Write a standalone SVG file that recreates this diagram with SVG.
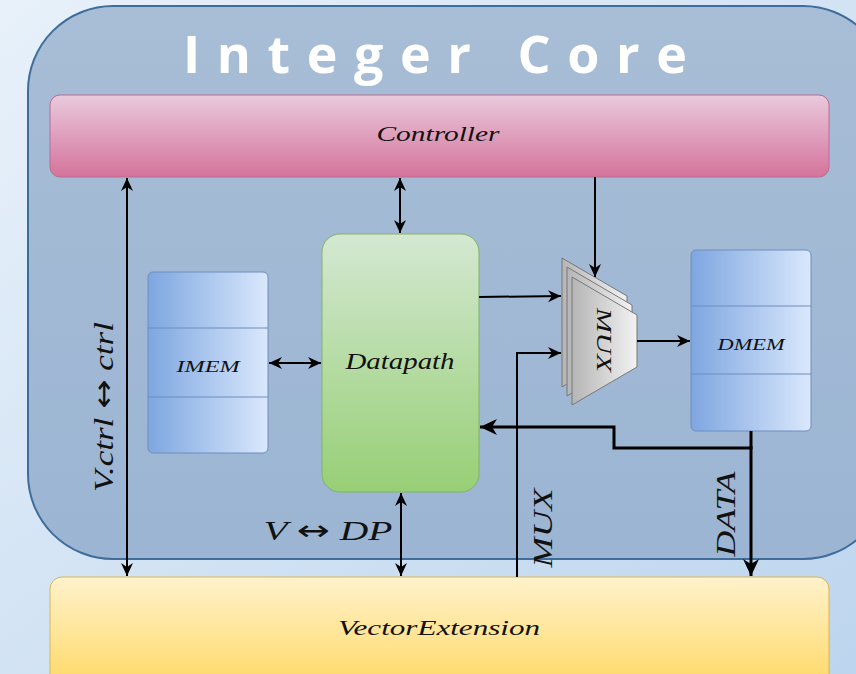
<svg xmlns="http://www.w3.org/2000/svg" width="856" height="674" viewBox="0 0 856 674">
<defs>
<linearGradient id="bg" x1="0" y1="0" x2="1" y2="1"><stop offset="0" stop-color="#e8f1fa"/><stop offset="1" stop-color="#bdd5ee"/></linearGradient>
<linearGradient id="core" x1="0" y1="0" x2="0" y2="1"><stop offset="0" stop-color="#a8bdd6"/><stop offset="1" stop-color="#9bb5d3"/></linearGradient>
<linearGradient id="pink" x1="0" y1="0" x2="0" y2="1"><stop offset="0" stop-color="#e9cadc"/><stop offset="1" stop-color="#d5739b"/></linearGradient>
<linearGradient id="green" x1="0" y1="0" x2="0" y2="1"><stop offset="0" stop-color="#d4e8d2"/><stop offset="1" stop-color="#97cf75"/></linearGradient>
<linearGradient id="blue" x1="0" y1="0" x2="1" y2="0"><stop offset="0" stop-color="#7ea6e0"/><stop offset="1" stop-color="#dae8fc"/></linearGradient>
<linearGradient id="yellow" x1="0" y1="0" x2="0" y2="1"><stop offset="0" stop-color="#fff2cc"/><stop offset="1" stop-color="#ffd966"/></linearGradient>
<linearGradient id="gray" x1="0" y1="0" x2="1" y2="0"><stop offset="0" stop-color="#b5b5b5"/><stop offset="1" stop-color="#f2f2f2"/></linearGradient>
<marker id="ah" markerUnits="userSpaceOnUse" markerWidth="14" markerHeight="14" viewBox="0 0 14 14" refX="13" refY="7" orient="auto-start-reverse"><path d="M0,1 L13,7 L0,13 L4,7 Z" fill="#000"/></marker>
<marker id="ahb" markerUnits="userSpaceOnUse" markerWidth="18" markerHeight="18" viewBox="0 0 18 18" refX="17" refY="9" orient="auto-start-reverse"><path d="M0,1 L17,9 L0,17 L5,9 Z" fill="#000"/></marker>
</defs>
<style>
.m{font-family:"Liberation Serif","DejaVu Serif",serif;font-style:italic;fill:#111;text-anchor:middle}
.ar{font-family:"DejaVu Sans",sans-serif;font-style:normal}
.c{fill:none;stroke:#000;stroke-width:2}
.cb{fill:none;stroke:#000;stroke-width:3}
.mem{fill:url(#blue);stroke:#6c8ebf;stroke-width:1}
.div{stroke:#6c8ebf;stroke-width:1.2}
.mux{fill:url(#gray);stroke:#777;stroke-width:1}
</style>
<rect x="0" y="0" width="856" height="674" fill="url(#bg)"/>
<g id="core">
<rect x="28" y="6" width="860" height="553" rx="85" fill="url(#core)" stroke="#3e6d9c" stroke-width="2"/>
<text x="435" y="73" font-family="'Open Sans','DejaVu Sans',sans-serif" font-weight="700" font-size="52" fill="#fff" text-anchor="middle" textLength="504" lengthAdjust="spacing">Integer Core</text>
</g>
<g id="controller">
<rect x="50" y="95" width="779" height="82" rx="10" fill="url(#pink)" stroke="#b86c90" stroke-width="1"/>
<text class="m" x="438" y="141" font-size="22" textLength="123" lengthAdjust="spacingAndGlyphs">Controller</text>
</g>
<g id="datapath">
<rect x="322" y="234" width="157" height="258" rx="18" fill="url(#green)" stroke="#82b366" stroke-width="1"/>
<text class="m" x="400" y="369" font-size="23" textLength="109" lengthAdjust="spacingAndGlyphs">Datapath</text>
</g>
<g id="imem">
<rect class="mem" x="148" y="272" width="120" height="181" rx="5"/>
<line class="div" x1="148" y1="328" x2="268" y2="328"/>
<line class="div" x1="148" y1="397" x2="268" y2="397"/>
<text class="m" x="208" y="372" font-size="16" textLength="63" lengthAdjust="spacingAndGlyphs">IMEM</text>
</g>
<g id="dmem">
<rect class="mem" x="691" y="250" width="120" height="181" rx="5"/>
<line class="div" x1="691" y1="306" x2="811" y2="306"/>
<line class="div" x1="691" y1="374" x2="811" y2="374"/>
<text class="m" x="751" y="350" font-size="16" textLength="67" lengthAdjust="spacingAndGlyphs">DMEM</text>
</g>
<g id="mux">
<polygon class="mux" points="562,258 627,296 627,348 562,387"/>
<polygon class="mux" points="567,267 632,305 632,357 567,396"/>
<polygon class="mux" points="572,277 637,315 637,367 572,405"/>
<text class="m" x="0" y="0" font-size="22" textLength="64" lengthAdjust="spacingAndGlyphs" transform="translate(597,340) rotate(90)">MUX</text>
</g>
<g id="vector">
<rect x="50" y="577" width="779" height="110" rx="12" fill="url(#yellow)" stroke="#d6b656" stroke-width="1"/>
<text class="m" x="439" y="635" font-size="22" textLength="202" lengthAdjust="spacingAndGlyphs">VectorExtension</text>
</g>
<g id="connectors">
<line class="c" x1="127" y1="178" x2="127" y2="576" marker-start="url(#ah)" marker-end="url(#ah)"/>
<line class="c" x1="400" y1="178" x2="400" y2="233" marker-start="url(#ah)" marker-end="url(#ah)"/>
<line class="c" x1="595" y1="177" x2="595" y2="277" marker-end="url(#ah)"/>
<line class="c" x1="479" y1="297" x2="561" y2="296" marker-end="url(#ah)"/>
<polyline class="c" points="517,577 517,353 561,353" marker-end="url(#ah)"/>
<line class="c" x1="637" y1="341" x2="690" y2="341" marker-end="url(#ah)"/>
<line class="c" x1="269" y1="363" x2="321" y2="363" marker-start="url(#ah)" marker-end="url(#ah)"/>
<line class="c" x1="401" y1="493" x2="401" y2="576" marker-start="url(#ah)" marker-end="url(#ah)"/>
<polyline class="cb" points="751,431 751,448 614,448 614,427 480,427" marker-end="url(#ahb)"/>
<line class="cb" x1="751" y1="446" x2="751" y2="576" marker-end="url(#ahb)"/>
<text class="m" x="0" y="0" font-size="28" textLength="170" lengthAdjust="spacingAndGlyphs" transform="translate(113,407) rotate(-90)">V.ctrl <tspan class="ar">↔</tspan> ctrl</text>
<text class="m" x="328" y="540" font-size="28" textLength="129" lengthAdjust="spacingAndGlyphs">V <tspan class="ar">↔</tspan> DP</text>
<text class="m" x="0" y="0" font-size="27" textLength="79" lengthAdjust="spacingAndGlyphs" transform="translate(552,528) rotate(-90)">MUX</text>
<text class="m" x="0" y="0" font-size="27" textLength="85" lengthAdjust="spacingAndGlyphs" transform="translate(735,514) rotate(-90)">DATA</text>
</g>
</svg>
